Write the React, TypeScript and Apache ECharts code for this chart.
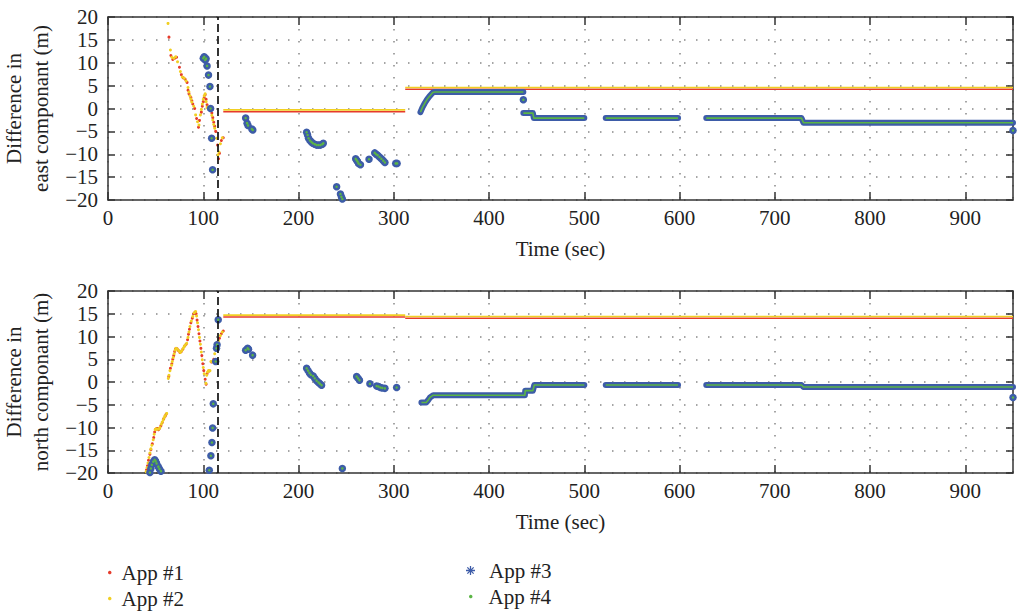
import React, { useEffect, useRef } from 'react';
import * as echarts from 'echarts';

const FONT = '"Liberation Serif", "Times New Roman", serif';

// ---- axes ----
const TIME_MIN = 0;
const TIME_MAX = 950;
const TIME_STEP = 100;
const DIFF_MIN = -20;
const DIFF_MAX = 20;
const DIFF_STEP = 5;
const handoverTime = 115;
const xAxisTitle = 'Time (sec)';
const panelTitles = ['Difference in\neast componant (m)', 'Difference in\nnorth componant (m)'];
const appNames = ['App #1', 'App #2', 'App #3', 'App #4'];
const appColors = ['#e63b2b', '#f1cf22', '#3d5ca8', '#5bb545'];

// ---- east component (top panel) ----
const eastApp1Dots = [
  [64, 15.6], [66, 11.6], [68, 10.7], [70, 11.0], [72, 11.2], [75, 9.0], [77, 7.4], [79, 6.7], [81, 6.4],
  [83, 5.7], [84, 4.0], [85, 3.2], [87, 2.4], [88, 1.7], [89, 1.0], [91, 0.0], [93, -2.2], [95, -4.1],
  [96, -2.6], [98, -0.8], [99, 0.5], [100, 1.5], [101, 2.4], [102, 3.0], [103, 2.0], [104, 0.8], [105, 0.2],
  [107, -0.3], [109, -1.0], [110, -2.0], [111, -3.0], [112, -3.9], [113, -5.0], [115, -8.0], [116, -11.0],
  [117, -9.8], [119, -7.0], [121, -6.4],
];
const eastApp2Dots = [
  [63, 18.6], [65.5, 12.8], [67, 11.2], [69, 11.0], [71, 11.3], [73, 10.2], [76, 8.1], [78, 6.9], [80, 6.6],
  [82, 6.0], [84, 4.6], [85, 3.6], [86, 2.8], [87, 2.1], [88, 1.4], [90, 0.5], [92, -1.4], [94, -2.9],
  [95.5, -3.6], [97, -1.4], [98, -0.2], [99, 1.0], [100, 2.0], [101, 2.8], [102, 3.2], [103, 1.5], [104, 0.3],
  [105, 0.0], [106, -0.2], [108, -0.4], [109, -1.5], [110, -2.5], [111, -3.5], [112, -4.3], [114, -6.5],
  [115.5, -10.1], [116.5, -9.5], [118, -7.7], [120, -6.4],
];
const eastApp1Lines = [
  [[121, -0.7], [312, -0.7]],
  [[312, 4.2], [950, 4.2]],
];
const eastApp2Lines = [
  [[121, -0.3], [312, -0.3]],
  [[312, 4.6], [950, 4.6]],
];
const eastApp3Dots = [
  [100, 11.0], [101, 11.3], [102, 10.6], [103, 10.9], [104, 9.3], [105.5, 7.3], [107, 4.8], [107.7, 0.0],
  [108.8, -6.5], [109.8, -13.4], [144.5, -2.1], [146, -3.2], [147, -3.7], [151, -4.5], [152, -4.7],
  [208.5, -5.2], [209.5, -5.8], [210.5, -6.5], [212, -7.0], [213.5, -7.3], [215, -7.6], [217, -7.8],
  [219, -8.0], [221, -8.0], [223, -8.0], [225, -7.8], [226, -7.6],
  [240, -17.1], [244, -18.7], [245, -19.3], [246, -19.8],
  [260, -11.0], [261, -11.3], [262, -11.6], [263, -12.0], [265, -12.3], [274, -11.1],
  [280, -9.7], [281.5, -10.0], [283, -10.2], [285, -10.6], [287, -11.0], [289, -11.4], [290.7, -11.8],
  [302, -12.0], [303.5, -12.0], [436, 1.9], [950, -4.8],
];
const eastApp3Lines = [
  [[328, -0.8], [330, 0.2], [332.6, 1.2], [335, 2.0], [338, 2.8], [341, 3.5], [343, 3.6], [436, 3.6]],
  [[436, -1.0], [446, -1.0], [447, -2.1], [500, -2.1]],
  [[522.5, -2.1], [598.4, -2.1]],
  [[628, -2.1], [728, -2.1], [730, -3.1], [950, -3.1]],
];
const eastApp4Dots = eastApp3Dots;
const eastApp4Lines = eastApp3Lines;

// ---- north component (bottom panel) ----
const northApp1Dots = [
  [40.5, -19.3], [41.5, -18.4], [42.5, -17.2], [44, -15.9], [45, -14.9], [46.5, -13.6], [48, -12.2],
  [49, -11.0], [50, -10.4], [51.5, -10.2], [53, -10.5], [54, -10.2], [55.5, -9.6], [57, -8.9], [58.5, -8.1],
  [60, -7.5], [61, -7.1],
  [63.8, 1.2], [65.5, 3.0], [67, 4.0], [68, 5.0], [69, 5.8], [70, 6.7], [71, 7.3], [72.5, 7.3], [74, 6.9],
  [75.5, 6.5], [77, 6.7], [78.5, 7.2], [80.5, 7.9], [82, 8.3], [83.5, 9.3], [84.5, 10.5], [85.5, 11.6],
  [87, 13.0], [88.5, 14.0], [90, 15.0], [91.5, 15.4], [92.5, 15.0], [93.5, 13.6], [94.5, 12.2], [95.5, 10.6],
  [96.5, 9.0], [97.5, 7.4], [98.5, 5.8], [99.5, 4.0], [100.5, 2.5], [102, 0.6], [103, -0.5], [104, 1.8],
  [106, 2.4], [108.5, 4.4], [111, 5.0], [113, 7.3], [115, 8.8], [117, 9.6], [119, 10.6], [121, 11.2],
];
const northApp2Dots = [
  [40, -19.7], [41, -18.8], [42, -17.8], [43, -16.6], [44, -15.6], [45, -14.7], [46, -13.9], [47.5, -12.7],
  [48.5, -11.5], [49.5, -10.5], [50.5, -10.3], [52, -10.4], [53.5, -10.3], [54.6, -10.0], [56, -9.3],
  [57, -8.8], [58, -8.3], [59, -7.8], [60, -7.4], [61.6, -6.9],
  [63.3, 0.8], [64, 1.5], [65, 2.5], [66.8, 3.7], [67.5, 4.5], [68.5, 5.4], [69.5, 6.2], [70.5, 7.0],
  [71.4, 7.4], [73, 7.2], [74.5, 6.8], [76, 6.5], [77.5, 6.9], [79, 7.4], [80, 7.8], [81, 8.1], [82.6, 8.5],
  [84, 9.8], [85, 11.0], [86, 12.2], [87.5, 13.4], [89, 14.4], [90.5, 15.2], [92, 15.5], [93, 14.5],
  [94, 13.0], [95, 11.5], [96, 9.8], [97, 8.3], [98, 6.6], [99, 4.9], [100, 3.2], [101, 1.8], [102.8, -0.3],
  [103.6, 1.5], [104.5, 2.2], [105.5, 2.5], [107, 2.5], [108, 4.5], [110, 4.5], [112, 6.2], [114, 8.5],
  [116, 9.0], [118, 10.2], [120, 11.0],
];
const northApp1Lines = [
  [[121, 14.3], [312, 14.3]],
  [[312, 14.0], [950, 14.0]],
];
const northApp2Lines = [
  [[121, 14.7], [312, 14.7]],
  [[312, 14.4], [950, 14.4]],
];
const northApp3Dots = [
  [44, -19.9], [45, -19.0], [46, -18.2], [47.5, -17.5], [49, -17.1], [50, -17.4], [51, -17.9], [52.8, -18.6],
  [54, -19.1], [55.6, -19.6],
  [106.3, -19.4], [108, -16.2], [109.1, -13.3], [109.8, -10.1], [110.5, -4.8], [113, 4.5], [113.9, 7.4],
  [114.5, 8.2], [115.7, 13.7],
  [144.5, 7.0], [146.6, 7.4], [147.5, 7.2], [151.8, 5.9],
  [208.5, 3.0], [210, 2.5], [211.5, 2.0], [213, 1.6], [215.4, 1.3], [217, 0.8], [219, 0.3], [221, -0.1],
  [222.5, -0.4], [224.2, -0.7], [246, -19.0],
  [261, 1.2], [262.5, 0.8], [264, 0.4], [274.9, -0.4],
  [282, -0.9], [284, -1.0], [286, -1.2], [288, -1.3], [290.7, -1.4], [303, -1.2], [950, -3.4],
];
const northApp3Lines = [
  [[329, -4.5], [334, -4.5], [336, -4.0], [338, -3.4], [341.4, -2.9], [437.6, -2.9], [438, -1.9], [446, -1.9],
    [447.5, -0.66], [500, -0.66]],
  [[522.5, -0.66], [598.4, -0.66]],
  [[628, -0.66], [728, -0.66], [730, -1.1], [950, -1.1]],
];
const northApp4Dots = northApp3Dots;
const northApp4Lines = northApp3Lines;

const panels = [
  { dots: [eastApp1Dots, eastApp2Dots, eastApp3Dots, eastApp4Dots], lines: [eastApp1Lines, eastApp2Lines, eastApp3Lines, eastApp4Lines] },
  { dots: [northApp1Dots, northApp2Dots, northApp3Dots, northApp4Dots], lines: [northApp1Lines, northApp2Lines, northApp3Lines, northApp4Lines] },
];

const gridBoxes = [
  { left: 108, top: 17, width: 905, height: 183 },
  { left: 108, top: 291, width: 905, height: 182 },
];

const AXIS_COLOR = '#333';
const textBase = { fontFamily: FONT, fontSize: 21, color: '#222' };
const minusFmt = (v: number) => String(v).replace('-', '\u2212');

const ASTERISK = 'path://M4.3 0h1.4v10h-1.4zM0 4.3h10v1.4h-10zM1 2L2 1L9 8L8 9ZM8 1L9 2L2 9L1 8Z';

function buildOption() {
  const xAxis: any[] = [];
  const yAxis: any[] = [];
  const series: any[] = [];
  const dotSizes = [3, 3, 7.5, 2.5];
  const lineWidths = [1.6, 1.6, 6, 1.6];
  const axisLine = { show: true, onZero: false, lineStyle: { color: AXIS_COLOR, width: 1.5 } };

  panels.forEach((p, g) => {
    const common = { gridIndex: g, type: 'value', min: TIME_MIN, max: TIME_MAX, interval: TIME_STEP };
    xAxis.push({
      ...common,
      position: 'bottom',
      name: xAxisTitle,
      nameLocation: 'middle',
      nameGap: 38,
      nameTextStyle: { ...textBase },
      axisLine,
      axisTick: { show: true, inside: true, length: 8, lineStyle: { color: AXIS_COLOR, width: 1.5 } },
      axisLabel: { ...textBase, margin: 7, showMaxLabel: false, formatter: minusFmt },
      splitLine: { show: true, lineStyle: { type: [1.5, 10.5], color: '#888', width: 1.5 } },
    });
    xAxis.push({
      ...common,
      position: 'top',
      axisLine,
      axisTick: { show: true, inside: true, length: 8, lineStyle: { color: AXIS_COLOR, width: 1.5 } },
      axisLabel: { show: false },
      splitLine: { show: false },
    });
    const ycommon = { gridIndex: g, type: 'value', min: DIFF_MIN, max: DIFF_MAX, interval: DIFF_STEP };
    yAxis.push({
      ...ycommon,
      position: 'left',
      name: panelTitles[g],
      nameLocation: 'middle',
      nameGap: 41,
      nameTextStyle: { ...textBase, lineHeight: 27 },
      axisLine,
      axisTick: { show: true, inside: true, length: 7, lineStyle: { color: AXIS_COLOR, width: 1.5 } },
      axisLabel: { ...textBase, margin: 10, formatter: minusFmt },
      splitLine: { show: true, lineStyle: { type: [1.5, 10.5], color: '#888', width: 1.5 } },
    });
    yAxis.push({
      ...ycommon,
      position: 'right',
      axisLine,
      axisTick: { show: true, inside: true, length: 7, lineStyle: { color: AXIS_COLOR, width: 1.5 } },
      axisLabel: { show: false },
      splitLine: { show: false },
    });

    const xi = g * 2;
    for (let a = 0; a < 4; a++) {
      const color = appColors[a];
      p.lines[a].forEach((seg, si) => {
        const s: any = {
          type: 'line',
          name: appNames[a],
          xAxisIndex: xi,
          yAxisIndex: xi,
          data: seg,
          symbol: 'none',
          showSymbol: false,
          silent: true,
          lineStyle: { color, width: lineWidths[a], cap: a === 2 ? 'round' : 'butt', join: 'round' },
          itemStyle: { color },
        };
        if (a === 2 && si === 0) {
          s.markLine = {
            silent: true,
            symbol: ['none', 'none'],
            label: { show: false },
            lineStyle: { color: '#111', width: 1.7, type: [8, 4] },
            data: [{ xAxis: handoverTime }],
          };
        }
        series.push(s);
      });
      series.push({
        type: 'scatter',
        name: appNames[a],
        xAxisIndex: xi,
        yAxisIndex: xi,
        data: p.dots[a],
        symbol: 'circle',
        symbolSize: dotSizes[a],
        silent: true,
        itemStyle: { color, opacity: 1 },
      });
    }
  });

  const legendItem = (name: string, icon: string, left: number, top: number, size: number, pad: number) => ({
    data: [{ name, icon }],
    left,
    top,
    itemWidth: size,
    itemHeight: size,
    selectedMode: false,
    textStyle: { ...textBase, padding: [0, 0, 0, pad] },
  });

  return {
    animation: false,
    backgroundColor: '#fff',
    grid: gridBoxes.map((b) => ({ ...b, containLabel: false, outerBoundsMode: 'none' })),
    xAxis,
    yAxis,
    series,
    legend: [
      legendItem(appNames[0], 'circle', 103, 557, 3.5, 5),
      legendItem(appNames[1], 'circle', 103, 583, 3.5, 5),
      legendItem(appNames[2], ASTERISK, 461, 555, 9, 9),
      legendItem(appNames[3], 'circle', 464, 581, 3.5, 11),
    ],
  };
}

export default function App() {
  const ref = useRef<HTMLDivElement>(null);
  useEffect(() => {
    if (!ref.current) return;
    const chart = echarts.init(ref.current, undefined, { renderer: 'svg' });
    chart.setOption(buildOption() as any);
    return () => chart.dispose();
  }, []);
  return (
    <div
      ref={ref}
      style={{ position: 'absolute', left: 0, top: 0, width: 1017, height: 611, background: '#fff' }}
    />
  );
}
